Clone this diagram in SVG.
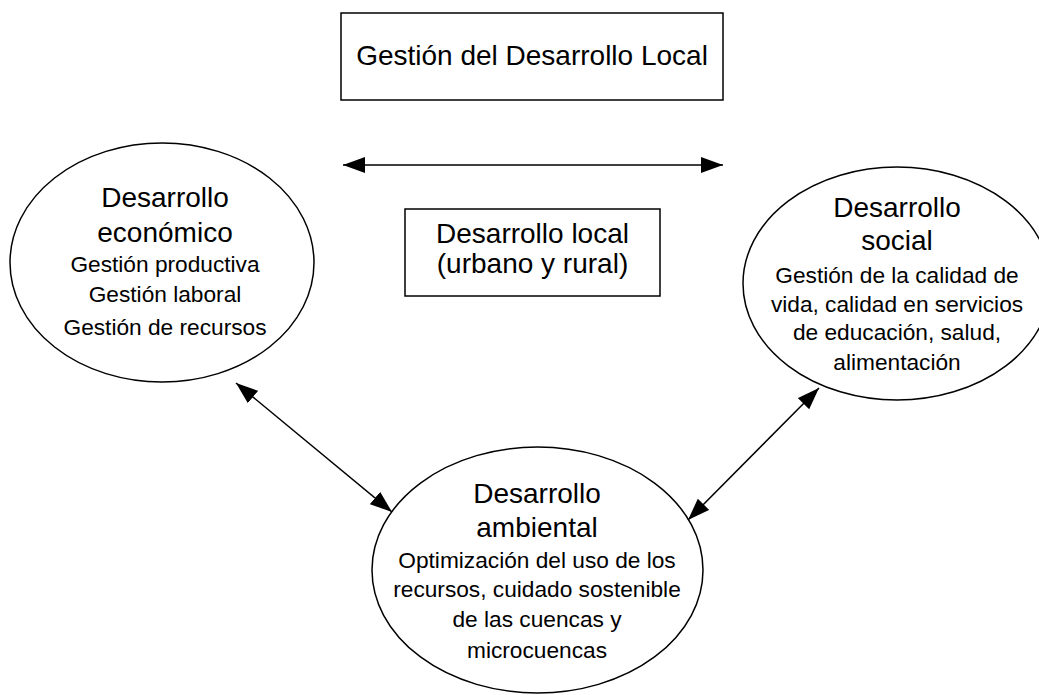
<svg xmlns="http://www.w3.org/2000/svg" width="1039" height="695" viewBox="0 0 1039 695">
<style>
.shape{fill:#fff;stroke:#000;stroke-width:1.5}
.t{font-family:"Liberation Sans",Arial,sans-serif;fill:#000;text-anchor:middle}
.h{font-size:28px}
.b{font-size:22.7px}
.c{stroke:#000;stroke-width:1.5;fill:none;marker-start:url(#ah);marker-end:url(#ah)}
</style>
<defs>
<marker id="ah" markerUnits="userSpaceOnUse" markerWidth="22" markerHeight="16" refX="22" refY="8" orient="auto-start-reverse" viewBox="0 0 22 16">
<path d="M0,0 L22,8 L0,16 z" fill="#000"/>
</marker>
</defs>
<rect width="1039" height="695" fill="#fff"/>
<g id="gestion">
<rect class="shape" x="341" y="13" width="382" height="87"/>
<text class="t h" x="532" y="65">Gestión del Desarrollo Local</text>
</g>
<g id="local">
<rect class="shape" x="405" y="209" width="255" height="87"/>
<text class="t h" x="532.5" y="243">Desarrollo local</text>
<text class="t h" x="532.5" y="273">(urbano y rural)</text>
</g>
<g id="economico">
<ellipse class="shape" cx="162" cy="262.5" rx="152" ry="119.5"/>
<text class="t h" x="165" y="207">Desarrollo</text>
<text class="t h" x="165" y="242">económico</text>
<text class="t b" x="165" y="272">Gestión productiva</text>
<text class="t b" x="165" y="302">Gestión laboral</text>
<text class="t b" x="165" y="335">Gestión de recursos</text>
</g>
<g id="social">
<ellipse class="shape" cx="897" cy="283.5" rx="154" ry="116.5"/>
<text class="t h" x="897" y="217">Desarrollo</text>
<text class="t h" x="897" y="250">social</text>
<text class="t b" x="897" y="283">Gestión de la calidad de</text>
<text class="t b" x="897" y="312">vida, calidad en servicios</text>
<text class="t b" x="897" y="340">de educación, salud,</text>
<text class="t b" x="897" y="370">alimentación</text>
</g>
<g id="ambiental">
<ellipse class="shape" cx="537.5" cy="570" rx="165.5" ry="123"/>
<text class="t h" x="537" y="503">Desarrollo</text>
<text class="t h" x="537" y="537">ambiental</text>
<text class="t b" x="537" y="568">Optimización del uso de los</text>
<text class="t b" x="537" y="597">recursos, cuidado sostenible</text>
<text class="t b" x="537" y="627">de las cuencas y</text>
<text class="t b" x="537" y="658">microcuencas</text>
</g>
<g id="connectors">
<line class="c" x1="343" y1="165" x2="723" y2="165"/>
<line class="c" x1="236" y1="383" x2="392" y2="512"/>
<line class="c" x1="819" y1="388" x2="688" y2="520"/>
</g>
</svg>
